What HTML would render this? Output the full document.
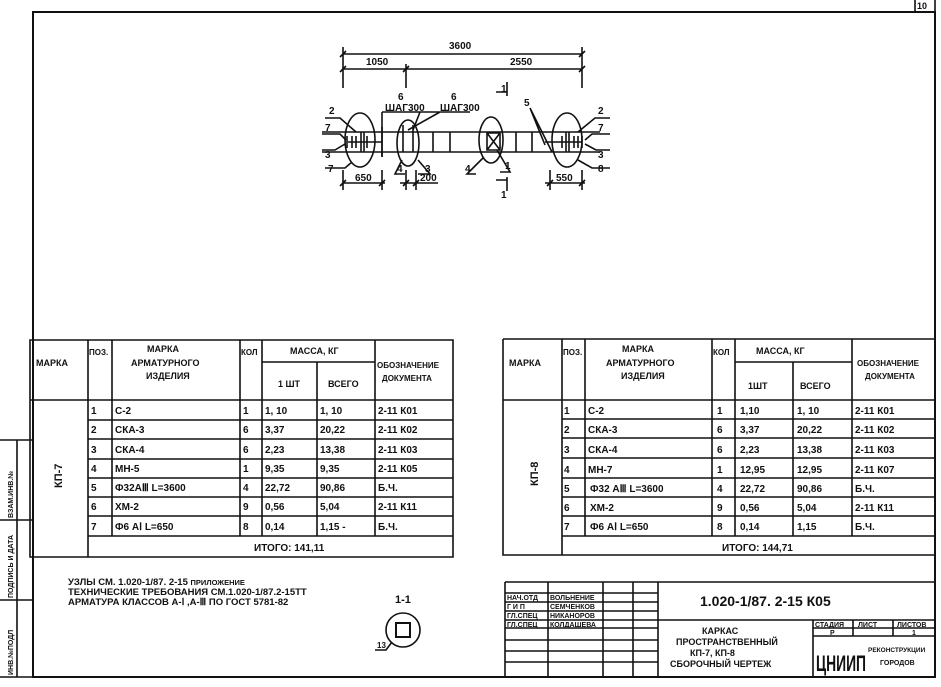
<!DOCTYPE html>
<html><head><meta charset="utf-8"><style>
html,body{margin:0;padding:0;background:#fff}
svg{display:block}
text{font-family:"Liberation Sans",sans-serif;font-weight:bold;fill:#111}
</style></head><body>
<svg width="941" height="687" viewBox="0 0 941 687" xmlns="http://www.w3.org/2000/svg">
<g stroke="#111" fill="none" stroke-width="1.6">
<path d="M33 12 H935 V677 H33 Z" stroke-width="2"/>
<path d="M915 0 V12 M935 0 V12"/>
<path d="M0 440 H33 M17 440 V677 M0 520 H33 M0 600 H33 M0 677 H33"/>
<path d="M343 54 H582 M343 69 H582 M343 47 V88 M406 64 V88 M582 47 V88 M340 57 L346 51 M579 57 L585 51 M340 72 L346 66 M403 72 L409 66 M579 72 L585 66"/>
<path d="M322 132 H600 M322 152 H600"/>
<ellipse cx="360" cy="140" rx="15" ry="27"/>
<ellipse cx="408" cy="143" rx="11" ry="23"/>
<ellipse cx="491" cy="140" rx="12" ry="23"/>
<ellipse cx="567" cy="140" rx="15" ry="27"/>
<path d="M382 127 V157 M433 132 V152 M450 132 V152 M516 132 V152 M532 132 V152 M403 125 V152 M413 125 V152"/>
<path d="M487 133 H500 V150 H487 Z M487 133 L500 150 M500 133 L487 150"/>
<path d="M347 136 V148 M352 136 V148 M356 136 V148 M361 132 V152 M364 132 V152 M367 136 V148 M348 142 H382"/>
<path d="M574 136 V148 M578 136 V148 M582 136 V148 M566 132 V152 M569 132 V152 M562 136 V148 M545 142 H582"/>
<path d="M325 118 H340 L356 132 M322 134 H340 L346 140 M322 150 H335 L345 144 M325 168 H345 L352 162 M382 112 H420 M382 112 V157 M420 112 L413 130 M418 112 H470 M440 112 L408 130"/>
<path d="M405 174 H395 L402 160 M418 174 H430 L418 160 M476 174 H467 L483 158 M500 172 H510 L497 150 M530 108 L545 145 M530 108 L552 152"/>
<path d="M610 118 H595 L578 132 M610 134 H592 L585 140 M610 150 H596 L585 144 M610 168 H592 L578 160"/>
<path d="M343 170 V190 M382 170 V190 M340 186 L346 180 M379 186 L385 180 M343 183 H385"/>
<path d="M406 170 V190 M416 170 V190 M403 186 L409 180 M413 186 L419 180 M400 183 H438"/>
<path d="M550 170 V190 M582 170 V190 M547 186 L553 180 M579 186 L585 180 M545 183 H585"/>
<path d="M507 82 V96 M496 92 H507 M507 177 V191 M496 180 H507"/>
<!-- left table -->
<path d="M30 340 H453 V557 H30 Z M88 340 V557 M112 340 V536 M240 340 V536 M262 340 V536 M375 340 V536 M317 362 V536 M262 362 H375 M30 400 H453 M88 536 H453"/>
<path d="M88 420 H453 M88 439 H453 M88 459 H453 M88 478 H453 M88 497 H453 M88 516 H453"/>
<!-- right table -->
<path d="M503 339 H935 M503 339 V555 H935 M562 339 V555 M585 339 V536 M712 339 V536 M735 339 V536 M852 339 V536 M793 362 V536 M735 362 H852 M503 400 H935 M562 536 H935"/>
<path d="M562 419 H935 M562 438 H935 M562 458 H935 M562 478 H935 M562 497 H935 M562 516 H935"/>
<!-- title block -->
<path d="M505 582 H935 M505 582 V677 M548 582 V677 M603 582 V677 M633 582 V677 M658 582 V677 M505 593 H658 M505 602 H658 M505 611 H658 M505 620 H935 M505 628 H658 M505 640 H658 M505 651 H658 M505 662 H658 M813 620 V677 M853 620 V636 M893 620 V636 M813 628 H935 M813 636 H935"/>
<circle cx="403" cy="630" r="17"/>
<rect x="396" y="623" width="14" height="14" stroke-width="2"/>
<path d="M375 650 H386 L392 642"/>
</g>
<g font-size="10">
<text x="449" y="49">3600</text>
<text x="366" y="65">1050</text>
<text x="510" y="65">2550</text>
<text x="329" y="114">2</text><text x="325" y="131">7</text><text x="325" y="158">3</text><text x="328" y="172">7</text>
<text x="398" y="100">6</text><text x="385" y="111">ШАГ300</text>
<text x="451" y="100">6</text><text x="440" y="111">ШАГ300</text>
<text x="397" y="172">4</text><text x="425" y="172">3</text><text x="465" y="172">4</text><text x="505" y="169">1</text>
<text x="524" y="106">5</text>
<text x="598" y="114">2</text><text x="598" y="131">7</text><text x="598" y="158">3</text><text x="598" y="172">8</text>
<text x="355" y="181">650</text><text x="420" y="181">200</text><text x="556" y="181">550</text>
<text x="501" y="92">1</text><text x="501" y="198">1</text>
</g>
<g font-size="9">
<text x="36" y="366">МАРКА</text><text x="89" y="355" font-size="8">ПОЗ.</text>
<text x="147" y="352">МАРКА</text><text x="131" y="366">АРМАТУРНОГО</text><text x="146" y="379">ИЗДЕЛИЯ</text>
<text x="241" y="355" font-size="8">КОЛ</text><text x="290" y="354">МАССА, КГ</text>
<text x="278" y="387">1 ШТ</text><text x="328" y="387">ВСЕГО</text>
<text x="377" y="368" font-size="8">ОБОЗНАЧЕНИЕ</text><text x="382" y="381" font-size="8">ДОКУМЕНТА</text>
</g>
<g font-size="10">
<text transform="translate(62,488) rotate(-90)" font-size="11">КП-7</text>
<text x="91" y="414">1</text><text x="115" y="414">С-2</text><text x="243" y="414">1</text><text x="265" y="414">1, 10</text><text x="320" y="414">1, 10</text><text x="378" y="414">2-11 К01</text>
<text x="91" y="433">2</text><text x="115" y="433">СКА-3</text><text x="243" y="433">6</text><text x="265" y="433">3,37</text><text x="320" y="433">20,22</text><text x="378" y="433">2-11 К02</text>
<text x="91" y="453">3</text><text x="115" y="453">СКА-4</text><text x="243" y="453">6</text><text x="265" y="453">2,23</text><text x="320" y="453">13,38</text><text x="378" y="453">2-11 К03</text>
<text x="91" y="472">4</text><text x="115" y="472">МН-5</text><text x="243" y="472">1</text><text x="265" y="472">9,35</text><text x="320" y="472">9,35</text><text x="378" y="472">2-11 К05</text>
<text x="91" y="491">5</text><text x="115" y="491">Ф32АⅢ L=3600</text><text x="243" y="491">4</text><text x="265" y="491">22,72</text><text x="320" y="491">90,86</text><text x="378" y="491">Б.Ч.</text>
<text x="91" y="510">6</text><text x="115" y="510">ХМ-2</text><text x="243" y="510">9</text><text x="265" y="510">0,56</text><text x="320" y="510">5,04</text><text x="378" y="510">2-11 К11</text>
<text x="91" y="530">7</text><text x="115" y="530">Ф6 АⅠ  L=650</text><text x="243" y="530">8</text><text x="265" y="530">0,14</text><text x="320" y="530">1,15 -</text><text x="378" y="530">Б.Ч.</text>
<text x="254" y="551">ИТОГО: 141,11</text>
</g>
<g font-size="9">
<text x="509" y="366">МАРКА</text><text x="563" y="355" font-size="8">ПОЗ.</text>
<text x="622" y="352">МАРКА</text><text x="606" y="366">АРМАТУРНОГО</text><text x="621" y="379">ИЗДЕЛИЯ</text>
<text x="713" y="355" font-size="8">КОЛ</text><text x="756" y="354">МАССА, КГ</text>
<text x="748" y="389">1ШТ</text><text x="800" y="389">ВСЕГО</text>
<text x="857" y="366" font-size="8">ОБОЗНАЧЕНИЕ</text><text x="865" y="379" font-size="8">ДОКУМЕНТА</text>
</g>
<g font-size="10">
<text transform="translate(538,486) rotate(-90)" font-size="11">КП-8</text>
<text x="564" y="414">1</text><text x="588" y="414">С-2</text><text x="717" y="414">1</text><text x="740" y="414">1,10</text><text x="797" y="414">1, 10</text><text x="855" y="414">2-11 К01</text>
<text x="564" y="433">2</text><text x="588" y="433">СКА-3</text><text x="717" y="433">6</text><text x="740" y="433">3,37</text><text x="797" y="433">20,22</text><text x="855" y="433">2-11 К02</text>
<text x="564" y="453">3</text><text x="588" y="453">СКА-4</text><text x="717" y="453">6</text><text x="740" y="453">2,23</text><text x="797" y="453">13,38</text><text x="855" y="453">2-11 К03</text>
<text x="564" y="473">4</text><text x="588" y="473">МН-7</text><text x="717" y="473">1</text><text x="740" y="473">12,95</text><text x="797" y="473">12,95</text><text x="855" y="473">2-11 К07</text>
<text x="564" y="492">5</text><text x="590" y="492">Ф32 АⅢ  L=3600</text><text x="717" y="492">4</text><text x="740" y="492">22,72</text><text x="797" y="492">90,86</text><text x="855" y="492">Б.Ч.</text>
<text x="564" y="511">6</text><text x="590" y="511">ХМ-2</text><text x="717" y="511">9</text><text x="740" y="511">0,56</text><text x="797" y="511">5,04</text><text x="855" y="511">2-11 К11</text>
<text x="564" y="530">7</text><text x="590" y="530">Ф6 АⅠ   L=650</text><text x="717" y="530">8</text><text x="740" y="530">0,14</text><text x="797" y="530">1,15</text><text x="855" y="530">Б.Ч.</text>
<text x="722" y="551">ИТОГО: 144,71</text>
</g>
<g font-size="9.5">
<text x="68" y="585">УЗЛЫ СМ. 1.020-1/87. 2-15 <tspan font-size="7.5">ПРИЛОЖЕНИЕ</tspan></text>
<text x="68" y="595">ТЕХНИЧЕСКИЕ ТРЕБОВАНИЯ СМ.1.020-1/87.2-15ТТ</text>
<text x="68" y="605">АРМАТУРА КЛАССОВ А-Ⅰ  ,А-Ⅲ ПО ГОСТ 5781-82</text>
<text x="395" y="603" font-size="11">1-1</text>
<text x="377" y="648" font-size="8">13</text>
<text x="917" y="9" font-size="9">10</text>
</g>
<g font-size="7">
<text transform="translate(13,518) rotate(-90)">ВЗАМ.ИНВ.№</text>
<text transform="translate(13,598) rotate(-90)">ПОДПИСЬ И ДАТА</text>
<text transform="translate(13,675) rotate(-90)">ИНВ.№ПОДЛ</text>
</g>
<g font-size="7">
<text x="507" y="600">НАЧ.ОТД</text><text x="550" y="600">ВОЛЬНЕНИЕ</text>
<text x="507" y="609">Г И П</text><text x="550" y="609">СЕМЧЕНКОВ</text>
<text x="507" y="618">ГЛ.СПЕЦ</text><text x="550" y="618">НИКАНОРОВ</text>
<text x="507" y="627">ГЛ.СПЕЦ</text><text x="550" y="627">КОЛДАШЕВА</text>
<text x="815" y="627">СТАДИЯ</text><text x="858" y="627">ЛИСТ</text><text x="897" y="627">ЛИСТОВ</text>
<text x="830" y="635">Р</text><text x="912" y="635">1</text>
<text x="868" y="652" font-size="6.5">РЕКОНСТРУКЦИИ</text><text x="880" y="665">ГОРОДОВ</text>
</g>
<text x="700" y="606" font-size="14" font-weight="normal">1.020-1/87. 2-15  К05</text>
<g font-size="9">
<text x="702" y="634">КАРКАС</text>
<text x="676" y="645">ПРОСТРАНСТВЕННЫЙ</text>
<text x="690" y="656">КП-7, КП-8</text>
<text x="670" y="667">СБОРОЧНЫЙ ЧЕРТЕЖ</text>
</g>
<text x="816" y="671" font-size="22" font-weight="normal" textLength="50" lengthAdjust="spacingAndGlyphs">ЦНИИП</text>
</svg>
</body></html>
